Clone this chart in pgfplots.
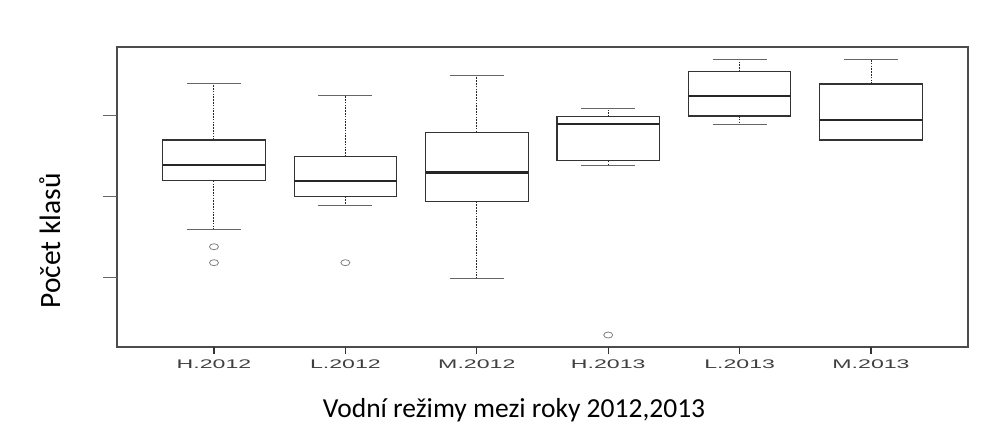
\documentclass[border=0pt]{standalone}
\usepackage{fontspec}
\setmainfont{Carlito}
\newfontfamily\tickfont[FakeStretch=1.85]{Liberation Sans}
\usepackage{pgfplots}
\pgfplotsset{compat=1.18}
\usepgfplotslibrary{statistics}
\pgfplotsset{
  boxplot/draw/lower whisker/.code={%
    \draw[black!85, line width=1pt, dash pattern=on 1.6pt off 1.2pt]
      (boxplot box cs:\pgfplotsboxplotvalue{lower quartile},0.5) --
      (boxplot box cs:\pgfplotsboxplotvalue{lower whisker},0.5);
    \draw[black!60, line width=1pt]
      (boxplot whisker cs:\pgfplotsboxplotvalue{lower whisker},0) --
      (boxplot whisker cs:\pgfplotsboxplotvalue{lower whisker},1);
  },
  boxplot/draw/upper whisker/.code={%
    \draw[black!85, line width=1pt, dash pattern=on 1.6pt off 1.2pt]
      (boxplot box cs:\pgfplotsboxplotvalue{upper quartile},0.5) --
      (boxplot box cs:\pgfplotsboxplotvalue{upper whisker},0.5);
    \draw[black!60, line width=1pt]
      (boxplot whisker cs:\pgfplotsboxplotvalue{upper whisker},0) --
      (boxplot whisker cs:\pgfplotsboxplotvalue{upper whisker},1);
  },
  boxplot/every box/.style={draw=black!80, line width=1.1pt},
  boxplot/every median/.style={draw=black!85, line width=2.4pt},
  mybox/.style={black!80, mark=o, mark size=3pt,
    mark options={xscale=1.5, draw=black!50, line width=0.8pt, solid}},
}
\begin{document}
\begin{tikzpicture}[x=1pt,y=1pt]
\path (0,0) rectangle (1006,425);
\begin{axis}[
  at={(117pt,78pt)}, anchor=south west,
  scale only axis, width=851pt, height=300pt,
  xmin=0.262, xmax=6.738, ymin=1.48, ymax=38.52,
  axis line style={draw=black!70, line width=1.4pt},
  xtick={1,2,3,4,5,6},
  xticklabels={H.2012,L.2012,M.2012,H.2013,L.2013,M.2013},
  ytick=\empty,
  extra y ticks={10,20,30}, extra y tick labels={},
  extra y tick style={major tick length=14pt, tick align=outside, ytick pos=left,
    tick style={black!60, line width=1pt}},
  extra x ticks={1,2,3,4,5,6}, extra x tick labels={},
  extra x tick style={major tick length=7pt, tick align=outside, xtick pos=left,
    tick style={black, line width=1.5pt}},
  xtick pos=left, ytick pos=left,
  tick align=outside, major tick length=6pt,
  xtick style={draw=black!80, line width=1.2pt},
  xticklabel style={font=\tickfont\fontsize{12.5}{14}\selectfont, text=black!75, anchor=base, yshift=-16pt},
  boxplot/draw direction=y,
  boxplot/box extend=0.78,
  boxplot/whisker extend=0.41,
  clip=false,
]
% H.2012
\addplot[mybox, boxplot prepared={draw position=1,
  lower whisker=15.93, lower quartile=22.01, median=23.95,
  upper quartile=27.04, upper whisker=34.04}]
  table[row sep=\\, y index=0]{y\\ 13.86\\ 11.89\\};
% L.2012
\addplot[mybox, boxplot prepared={draw position=2,
  lower whisker=18.93, lower quartile=20.04, median=22.01,
  upper quartile=24.98, upper whisker=32.47}]
  table[row sep=\\, y index=0]{y\\ 11.89\\};
% M.2012
\addplot[mybox, boxplot prepared={draw position=3,
  lower whisker=9.96, lower quartile=19.42, median=23.00,
  upper quartile=27.99, upper whisker=35.06}]
  coordinates {};
% H.2013
\addplot[mybox, boxplot prepared={draw position=4,
  lower whisker=23.95, lower quartile=24.48, median=28.98,
  upper quartile=29.91, upper whisker=30.95}]
  table[row sep=\\, y index=0]{y\\ 2.96\\};
% L.2013
\addplot[mybox, boxplot prepared={draw position=5,
  lower whisker=28.98, lower quartile=30.00, median=32.50,
  upper quartile=35.47, upper whisker=37.00}]
  coordinates {};
% M.2013
\addplot[mybox, boxplot prepared={draw position=6,
  lower whisker=27.04, lower quartile=27.04, median=29.50,
  upper quartile=33.95, upper whisker=37.00}]
  coordinates {};
\end{axis}
\node[font=\fontsize{27.5}{30}\selectfont, anchor=base] at (514,7) {Vodní režimy mezi roky 2012,2013};
\node[font=\fontsize{29.5}{32}\selectfont, rotate=90, anchor=base] at (60,184) {Počet klasů};
\end{tikzpicture}
\end{document}
